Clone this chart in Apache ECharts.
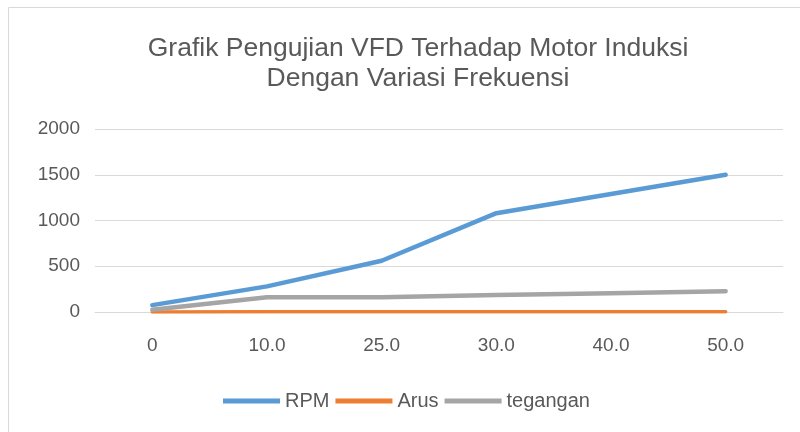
<!DOCTYPE html>
<html>
<head>
<meta charset="utf-8">
<script src="https://cdn.jsdelivr.net/npm/echarts@6/dist/echarts.min.js"></script>
<style>
  html, body { margin: 0; padding: 0; background: #fff; }
  #chart { width: 800px; height: 432px; }
</style>
</head>
<body>
<div id="chart"></div>
<script>
// frekuensi (Hz) on the x axis
var frekuensi = ["0", "10.0", "25.0", "30.0", "40.0", "50.0"];
var rpm = [75, 280, 560, 1080, 1290, 1500];
var arus = [1, 1.5, 2, 2.5, 3, 3.5];
var tegangan = [25, 160, 160, 185, 205, 228];
var yTicks = [0, 500, 1000, 1500, 2000];

var chart = echarts.init(document.getElementById("chart"));

var textColor = "#595959";
var gridColor = "#d9d9d9";

function lineSeries(name, data, color, width) {
  return {
    name: name,
    type: "line",
    data: data,
    symbol: "none",
    lineStyle: { width: width, color: color, cap: "round", join: "round" },
    itemStyle: { color: color },
    emphasis: { disabled: true },
  };
}

chart.setOption({
  animation: false,
  textStyle: { fontFamily: "Liberation Sans" },
  title: {
    text: "Grafik Pengujian VFD Terhadap Motor Induksi\nDengan Variasi Frekuensi",
    left: 413,
    top: 29,
    textAlign: "center",
    textStyle: {
      color: textColor,
      fontSize: 26.5,
      fontWeight: "normal",
      lineHeight: 30,
    },
  },
  graphic: [
    {
      // chart area frame (right/bottom edges fall outside the picture)
      type: "rect",
      shape: { x: 8.5, y: 7.5, width: 900, height: 500 },
      style: { fill: "none", stroke: gridColor, lineWidth: 1 },
      silent: true,
    },
  ],
  legend: {
    left: 218,
    top: 386,
    icon: "rect",
    itemWidth: 57,
    itemHeight: 5,
    itemGap: 6,
    textStyle: { color: textColor, fontSize: 20 },
    data: ["RPM", "Arus", "tegangan"],
  },
  grid: { left: 95, right: 17, top: 129, bottom: 120 },
  xAxis: {
    type: "category",
    data: frekuensi,
    boundaryGap: true,
    axisLine: { lineStyle: { color: gridColor, width: 1 } },
    axisTick: { show: false },
    axisLabel: { color: textColor, fontSize: 19, margin: 24 },
  },
  yAxis: {
    type: "value",
    min: yTicks[0],
    max: yTicks[yTicks.length - 1],
    interval: 500,
    axisLine: { show: false },
    axisTick: { show: false },
    axisLabel: {
      color: textColor,
      fontSize: 19,
      margin: 15,
      formatter: function (v) { return String(v); },
    },
    splitLine: { lineStyle: { color: gridColor, width: 1 } },
  },
  series: [
    lineSeries("RPM", rpm, "#5b9bd5", 4.5),
    lineSeries("Arus", arus, "#ed7d31", 3.5),
    lineSeries("tegangan", tegangan, "#a5a5a5", 4.5),
  ],
});
</script>
</body>
</html>
